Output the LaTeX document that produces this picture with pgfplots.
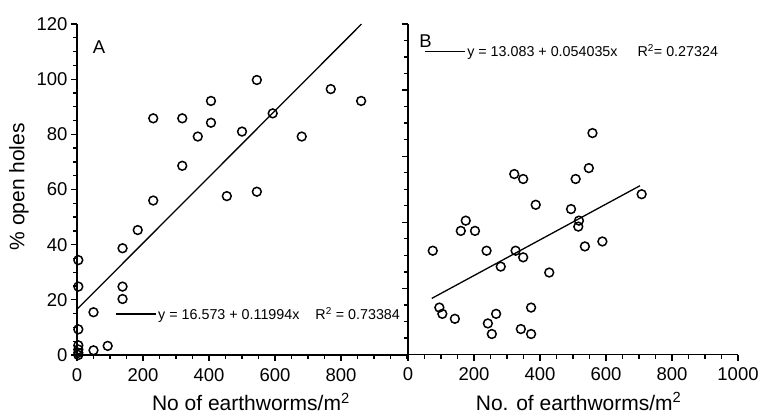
\documentclass[border=0pt]{standalone}
\usepackage{fontspec}
\setmainfont{Liberation Sans}
\usepackage{pgfplots}
\pgfplotsset{compat=1.18}
\begin{document}
\begin{tikzpicture}
\useasboundingbox (-77bp,-59bp) rectangle (683bp,355bp);
\pgfplotsset{
  myaxis/.style={
    scale only axis, width=330bp,
    axis lines=left, axis line style={-, line width=1.5bp},
    xmin=0, xmax=1000, ymin=0,
    tick style={black, line width=1.3bp},
    major tick length=6bp, minor tick length=4bp,
    tick align=outside,
    tick label style={font=\fontsize{18.5bp}{21bp}\selectfont},
    xticklabel style={yshift=-4bp},
    /pgf/number format/1000 sep={},
    label style={font=\fontsize{21bp}{24bp}\selectfont},
    /pgf/number format/assume math mode=true,
    clip=false,
    legend style={draw=none, fill=none, inner sep=0pt, outer sep=0pt,
      font=\fontsize{14.3bp}{16bp}\selectfont, anchor=west},
    legend cell align=left,
    legend image code/.code={\draw[line width=1.3bp] (0bp,0bp) -- (40bp,0bp);},
  },
  pts/.style={only marks, mark=o, mark size=4.4bp, mark options={line width=1.5bp, black}, forget plot},
  fit/.style={black, line width=1.3bp, no marks},
}
\begin{axis}[myaxis, at={(0bp,0bp)}, anchor=south west, height=331bp, ymax=120,
  xtick={0,200,400,600,800}, minor xtick={50,100,...,1000},
  ytick={0,20,...,120}, minor ytick={5,10,...,120},
  xlabel={No of earthworms/m\textsuperscript{2}},
  xlabel style={at={(axis description cs:0.527,0)}, anchor=base, yshift=-55.6bp},
  ylabel={\% open holes},
  ylabel style={at={(axis description cs:-0.176,0.508)}, anchor=center},
  legend style={at={(axis cs:115,14.9)}},
]
\addplot[pts] coordinates {
(231,85.8) (319,85.8) (406,92.1) (406,84.2) (366,79.2) (319,68.6) (500,81)
(545,99.7) (593,87.6) (681,79.2) (769,96.4) (861,92.1) (454,57.6) (545,59.2)
(231,56) (184,45.3) (138,38.7) (138,24.8) (138,20.3) (4,34.4) (4,24.8)
(4,9.3) (4,3.5) (4,2) (4,0.8) (4,0) (50,15.5) (50,1.7) (93,3.3)
};
\addplot[fit] coordinates {(0,16.573) (862,119.96)};
\addlegendentry{y = 16.573 + 0.11994x\hspace{16bp}R\textsuperscript{2} = 0.73384}
\node[font=\fontsize{18.5bp}{21bp}\selectfont] at (axis cs:66.7,111.5) {A};
\end{axis}
\begin{axis}[myaxis, at={(331bp,0.5bp)}, anchor=south west, height=330.5bp, ymax=100,
  xtick={0,200,...,1000}, minor xtick={50,100,...,1000},
  ytick={0,20,...,100}, minor ytick={5,10,...,100}, yticklabels={},
  xlabel={No. of earthworms/m\textsuperscript{2}},
  xlabel style={at={(axis description cs:0.517,0)}, anchor=base, yshift=-55.6bp},
  legend style={at={(axis cs:48.5,91.7)}},
]
\addplot[pts] coordinates {
(559,67.0) (548,56.4) (508,53.1) (322,54.6) (349,53.1) (708,48.5) (387,45.3)
(494,44.0) (518,40.5) (516,38.7) (589,34.2) (536,32.7) (175,40.5) (160,37.4)
(203,37.4) (75,31.4) (238,31.4) (326,31.4) (349,29.4) (281,26.6) (428,24.8)
(95,14.2) (104,12.3) (142,10.8) (267,12.3) (242,9.4) (254,6.2) (342,7.7)
(373,14.2) (373,6.2)
};
\addplot[fit] coordinates {(72,16.97) (703,51.07)};
\addlegendentry{y = 13.083 + 0.054035x\hspace{20bp}R\textsuperscript{2}= 0.27324}
\node[font=\fontsize{18.5bp}{21bp}\selectfont] at (axis cs:53,94.7) {B};
\end{axis}
\end{tikzpicture}
\end{document}
